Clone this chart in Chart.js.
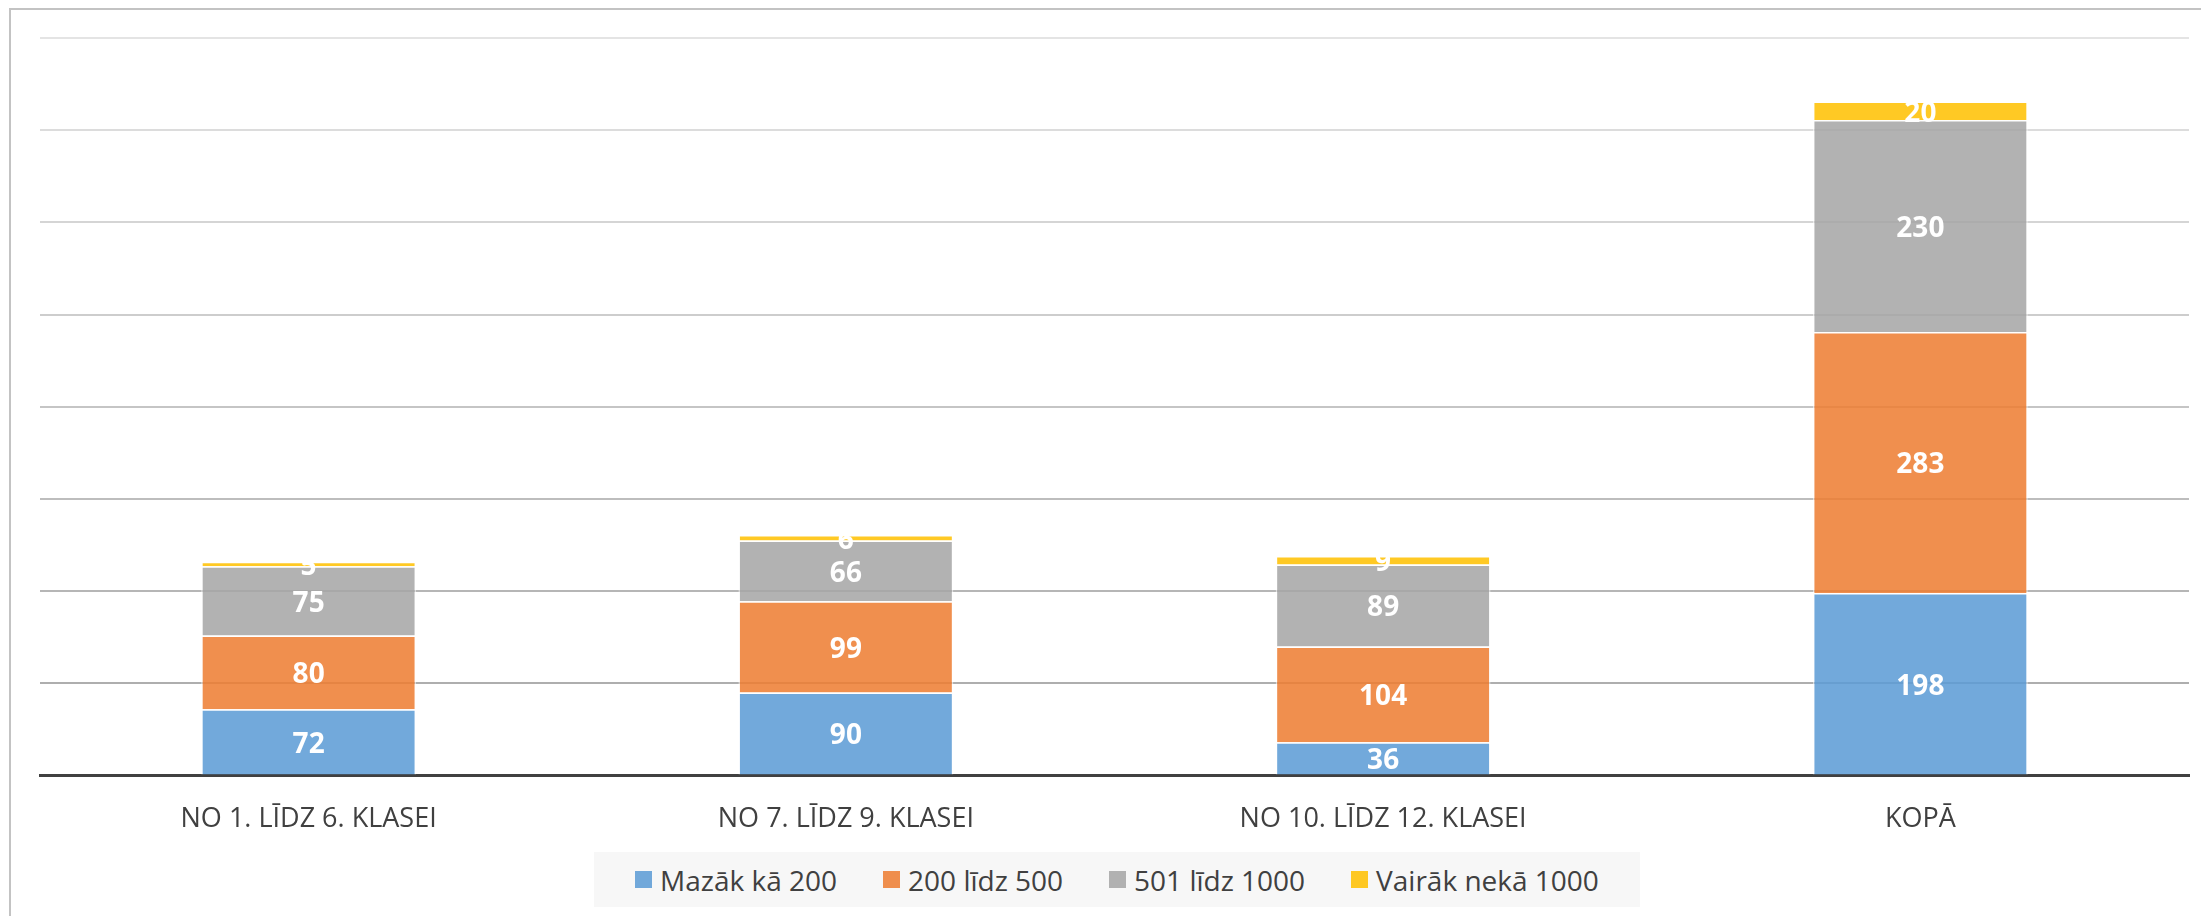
<!DOCTYPE html>
<html>
<head>
<meta charset="utf-8">
<script src="https://cdn.jsdelivr.net/npm/chart.js@4.4.1/dist/chart.umd.min.js"></script>
<style>
    html, body { margin: 0; padding: 0; background: #ffffff; overflow: hidden; }
    #frame { position: absolute; left: 9px; top: 8px; width: 2300px; height: 1000px; border: 2px solid #c3c3c3; }
    #wrap { position: absolute; left: 0; top: 0; width: 2201px; height: 916px; }
    #legend {
        position: absolute; left: 594px; top: 852px; width: 1046px; height: 55px;
        background: #f7f7f7; display: flex; justify-content: center; align-items: center;
        font-family: "Open Sans", sans-serif; font-size: 28px; color: #404040;
    }
    #legend .item { display: flex; align-items: center; margin: 0 23px; white-space: nowrap; }
    #legend .box { width: 17px; height: 17px; margin-right: 8px; }
</style>
</head>
<body>
<div id="frame"></div>
<div id="wrap"><canvas id="resultPlot"></canvas></div>
<div id="legend"></div>
<script>
const categories = ['NO 1. LĪDZ 6. KLASEI', 'NO 7. LĪDZ 9. KLASEI', 'NO 10. LĪDZ 12. KLASEI', 'KOPĀ'];
const seriesNames = ['Mazāk kā 200', '200 līdz 500', '501 līdz 1000', 'Vairāk nekā 1000'];
const lessThan200 = [72, 90, 36, 198];
const from200to500 = [80, 99, 104, 283];
const from501to1000 = [75, 66, 89, 230];
const moreThan1000 = [5, 6, 9, 20];
const yTicks = [0, 100, 200, 300, 400, 500, 600, 700, 800];

const seriesColors = ['rgba(91,155,213,0.86)', 'rgba(237,125,49,0.86)', 'rgba(165,165,165,0.86)', 'rgba(255,192,0,0.86)'];

/**
 * White value labels in the middle of each segment
 */
const valueLabels = {
    id: 'valueLabels',
    afterDatasetsDraw(chart) {
        let ctx = chart.ctx;
        ctx.save();
        ctx.font = 'bold 28px "Open Sans"';
        ctx.fillStyle = '#ffffff';
        ctx.textAlign = 'center';
        ctx.textBaseline = 'middle';
        chart.data.datasets.forEach(function(ds, i) {
            let meta = chart.getDatasetMeta(i);
            meta.data.forEach(function(bar, j) {
                let top = Math.min(bar.y, bar.base);
                ctx.save();
                ctx.beginPath();
                ctx.rect(0, top, chart.width, chart.height);
                ctx.clip();
                ctx.fillText(String(ds.data[j]), bar.x, (bar.y + bar.base) / 2 + 3);
                ctx.restore();
            });
        });
        ctx.restore();
    }
};

function gridColor(value) {
    // gridlines get lighter toward the top
    let t = value / 800;
    let c = Math.round(166 + (228 - 166) * t);
    return 'rgb(' + c + ',' + c + ',' + c + ')';
}

/**
 * Build the legend under the chart
 */
function buildLegend() {
    let legend = document.getElementById('legend');
    for (let i = 0; i < seriesNames.length; i++) {
        let item = document.createElement('div');
        item.className = 'item';
        let box = document.createElement('span');
        box.className = 'box';
        box.style.background = seriesColors[i];
        let text = document.createElement('span');
        text.textContent = seriesNames[i];
        item.appendChild(box);
        item.appendChild(text);
        legend.appendChild(item);
    }
}

function draw() {
    let plotArea = document.getElementById('resultPlot');
    let series = [lessThan200, from200to500, from501to1000, moreThan1000];
    let datasets = [];
    for (let i = 0; i < series.length; i++) {
        datasets.push({
            label: seriesNames[i],
            data: series[i],
            backgroundColor: seriesColors[i],
            borderColor: 'rgba(255,255,255,0.55)',
            borderWidth: 1.5,
            barPercentage: 0.4,
            categoryPercentage: 1.0
        });
    }

    new Chart(plotArea, {
        type: 'bar',
        data: { labels: categories, datasets: datasets },
        plugins: [valueLabels],
        options: {
            responsive: true,
            maintainAspectRatio: false,
            animation: false,
            layout: { padding: { left: 40, right: 12, top: 38, bottom: 60 } },
            plugins: {
                tooltip: { enabled: false },
                legend: { display: false }
            },
            scales: {
                x: {
                    stacked: true,
                    grid: { display: false },
                    border: { display: true, color: '#404040', width: 3 },
                    ticks: {
                        color: '#404040',
                        padding: 20,
                        font: { family: '"Open Sans"', size: 27 }
                    },
                    afterFit: function(scale) { scale.height = 80.5; }
                },
                y: {
                    stacked: true,
                    min: 0,
                    max: 800,
                    afterBuildTicks: function(scale) {
                        scale.ticks = yTicks.map(function(v) { return { value: v }; });
                    },
                    ticks: { display: false },
                    grid: {
                        drawTicks: false,
                        lineWidth: 2,
                        color: function(c) { return gridColor(c.tick ? c.tick.value : 0); }
                    },
                    border: { display: false },
                    afterFit: function(scale) { scale.width = 0; }
                }
            }
        }
    });
}

buildLegend();
draw();
</script>
</body>
</html>
